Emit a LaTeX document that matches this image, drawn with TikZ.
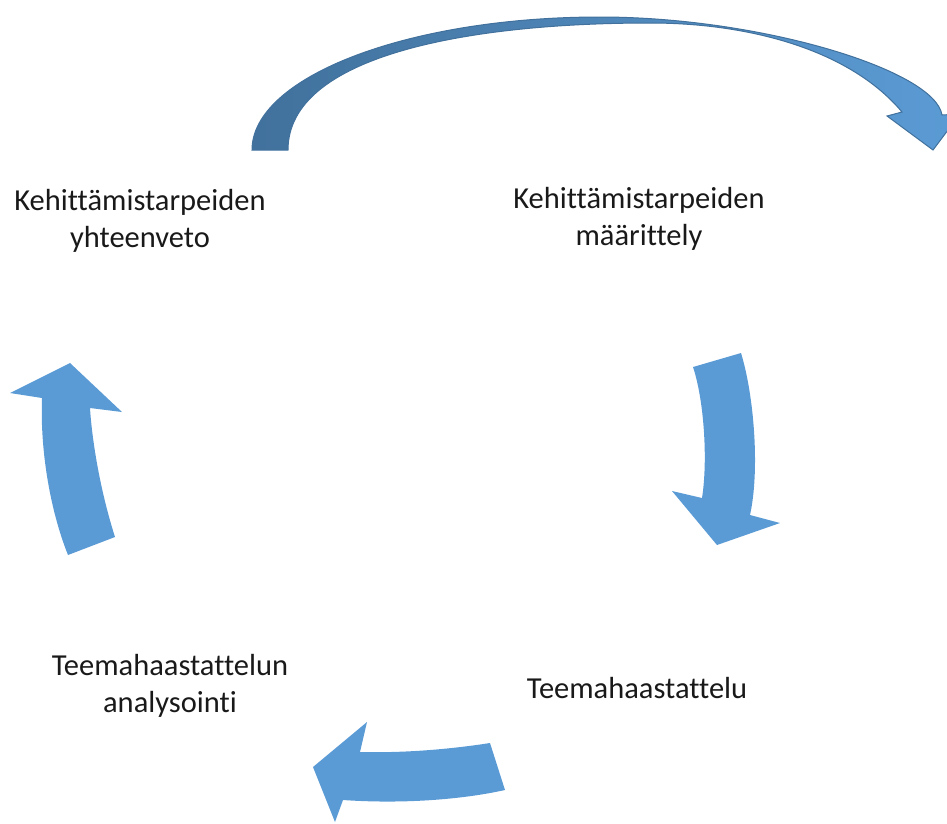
\documentclass[tikz,border=0pt]{standalone}
\usepackage{fontspec}
\setmainfont{Carlito}[Ligatures={NoCommon}]
\definecolor{arrowblue}{HTML}{5B9BD5}
\definecolor{arrowdark}{HTML}{41719C}
\definecolor{arcleft}{HTML}{41719C}
\begin{document}
\begin{tikzpicture}[x=1pt,y=-1pt,
  label/.style={align=center,font=\fontsize{30.5}{37}\selectfont,text=black!90,inner sep=0pt},
  cyclearrow/.style={fill=arrowblue,draw=none},
  toparrow/.style={left color=arcleft,right color=arrowblue,draw=arrowdark,line width=1pt}]
\useasboundingbox (0,0) rectangle (947,823);

% stage labels
\node[label] (yhteenveto) at (140,221) {Kehittämistarpeiden\\yhteenveto};
\node[label] (maarittely) at (639,219) {Kehittämistarpeiden\\määrittely};
\node[label] (haastattelu) at (637,688) {Teemahaastattelu};
\node[label] (analysointi) at (170,686) {Teemahaastattelun\\analysointi};

% the wide arc over the top
\begin{scope}
\clip (0,0) rectangle (947,823);
\path[toparrow] (252,150) .. controls (252,77) and (408,17) .. (600,17)
  .. controls (760,17) and (935,70) .. (942,115)
  -- (960,114) -- (933,150) -- (887,116) -- (902,112)
  .. controls (850,50) and (750,23) .. (650,23)
  .. controls (470,23) and (288,55) .. (288,150) -- cycle;
\end{scope}

% right arrow, pointing down
\path[cyclearrow] (693,367) -- (741,353)
  .. controls (754,395) and (760,470) .. (750,515)
  -- (780,523) -- (717,545) -- (672,491) -- (702,498)
  .. controls (708,460) and (704,400) .. (693,367) -- cycle;

% bottom arrow, pointing left
\path[cyclearrow] (490,743)
  .. controls (445,750) and (400,753) .. (360,752)
  -- (367,722) -- (313,767) -- (335,822) -- (343,800)
  .. controls (400,804) and (460,800) .. (505,790) -- cycle;

% left arrow, pointing up
\path[cyclearrow] (68,555) -- (115,537)
  .. controls (100,490) and (92,440) .. (90,408)
  -- (122,412) -- (70,363) -- (10,393) -- (42,398)
  .. controls (40,450) and (50,510) .. (68,555) -- cycle;
\end{tikzpicture}
\end{document}
